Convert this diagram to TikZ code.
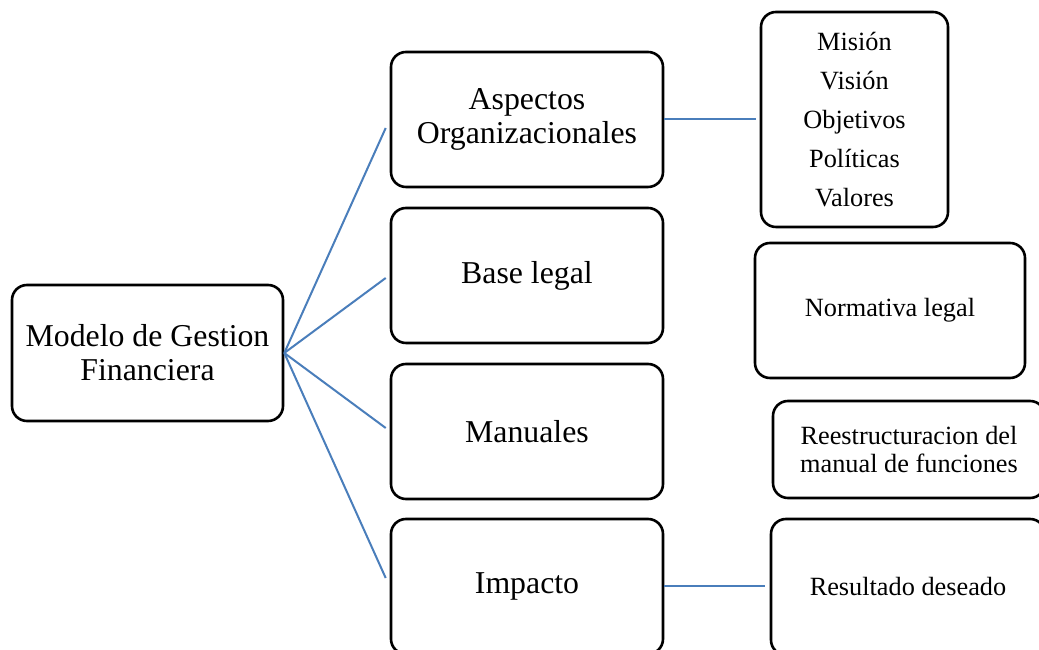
\documentclass[tikz,border=0pt]{standalone}
\usepackage{fontspec}
\setmainfont{Liberation Serif}
\usetikzlibrary{calc}
\definecolor{conn}{HTML}{4A7EBB}
\tikzset{
  box/.style={draw=black, line width=2.6pt, rounded corners=15pt, fill=white, inner sep=0pt, align=center},
  bigtext/.style={font=\fontsize{31.8}{34}\selectfont},
  smalltext/.style={font=\fontsize{26.3}{28.5}\selectfont},
  link/.style={draw=conn, line width=2pt}
}
\begin{document}
\begin{tikzpicture}[x=1pt,y=1pt]
\useasboundingbox (0,0) rectangle (1039,650);
\clip (0,0) rectangle (1039,650);
\fill[white] (0,0) rectangle (1039,650);
\node[box,bigtext,minimum width=271pt,minimum height=136pt] (main) at (147.5,297) {Modelo de Gestion\\Financiera};
\node[box,bigtext,minimum width=272pt,minimum height=135pt] (b1) at (527,530.5) {Aspectos\\Organizacionales};
\node[box,bigtext,minimum width=272pt,minimum height=135pt] (b2) at (527,374.5) {Base legal};
\node[box,bigtext,minimum width=272pt,minimum height=135pt] (b3) at (527,218.5) {Manuales};
\node[box,bigtext,minimum width=272pt,minimum height=135pt] (b4) at (527,63.5) {Impacto};
\node[box,font=\fontsize{26.3}{38.8}\selectfont,minimum width=187pt,minimum height=215pt] (c1) at (854.5,530.5) {Misión\\Visión\\Objetivos\\Políticas\\Valores};
\node[box,smalltext,minimum width=270pt,minimum height=135pt] (c2) at (890,339.5) {Normativa legal};
\node[box,smalltext,minimum width=272pt,minimum height=97pt] (c3) at (909,200.5) {Reestructuracion del\\manual de funciones};
\node[box,smalltext,minimum width=274pt,minimum height=136pt] (c4) at (908,63) {Resultado deseado};
\draw[link] (main.east) -- ($(b1.west)+(-4,-8.5)$);
\draw[link] (main.east) -- ($(b2.west)+(-4,-2.5)$);
\draw[link] (main.east) -- ($(b3.west)+(-4,3.5)$);
\draw[link] (main.east) -- ($(b4.west)+(-4,8.5)$);
\draw[link,shorten >=4pt] (b1.east) -- (b1.east -| c1.west);
\draw[link,shorten >=5pt] (b4.east) -- (b4.east -| c4.west);
\end{tikzpicture}
\end{document}
